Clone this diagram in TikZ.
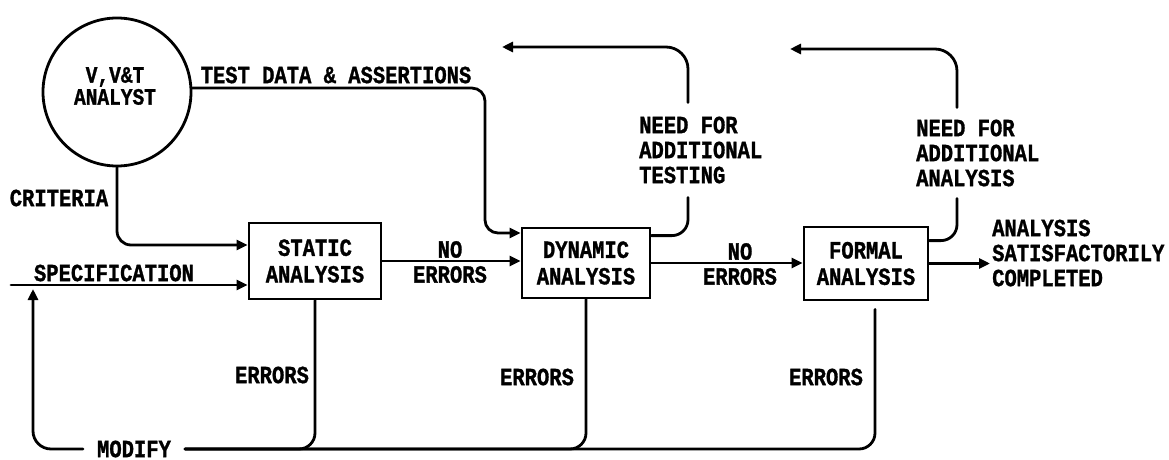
\documentclass[tikz,border=0pt]{standalone}
\usepackage{fontspec}
\usepackage{graphicx}
\setmonofont{Liberation Mono}[BoldFeatures={FakeBold=1.3}]
\usetikzlibrary{arrows.meta}
\newcommand\tx[1]{\scalebox{1}[1.2]{#1}}
\begin{document}
\begin{tikzpicture}[x=1pt,y=-1pt,
  every node/.style={font=\ttfamily\bfseries\fontsize{20.5}{25}\selectfont, inner sep=0pt},
  conn/.style={line width=2.8pt, line cap=round, rounded corners=14pt},
  arr/.style={conn, -{Triangle[length=11pt,width=10pt]}},
  box/.style={draw, line width=2.8pt, inner sep=0pt, align=center, font=\ttfamily\bfseries\fontsize{20.5}{26.5}\selectfont},
  lbl/.style={align=center},
]
\useasboundingbox (0,0) rectangle (1169,460);
% nodes
\node[draw, circle, line width=2.8pt, minimum size=148pt] (analyst) at (117,92) {};
\node[lbl, font=\ttfamily\bfseries\fontsize{19.5}{22}\selectfont] (analysttxt) at (115,86) {\tx{V,V\&T}\\\tx{ANALYST}};
\node[box, minimum width=132pt, minimum height=76pt] (static) at (315,261) {\tx{STATIC}\\\tx{ANALYSIS}};
\node[box, minimum width=128pt, minimum height=70pt] (dynamic) at (586,263) {\tx{DYNAMIC}\\\tx{ANALYSIS}};
\node[box, minimum width=124pt, minimum height=73pt] (formal) at (866,263.5) {\tx{FORMAL}\\\tx{ANALYSIS}};
\node[lbl] (testdata) at (336,75) {\tx{TEST DATA \& ASSERTIONS}};
\node[lbl] (criteria) at (59,198) {\tx{CRITERIA}};
\node[lbl] (spec) at (114,273) {\tx{SPECIFICATION}};
\node[lbl] (noerr1) at (450,262) {\tx{NO}\\\tx{ERRORS}};
\node[lbl] (noerr2) at (740,264) {\tx{NO}\\\tx{ERRORS}};
\node[lbl] (err1) at (272,375) {\tx{ERRORS}};
\node[lbl] (err2) at (537,377) {\tx{ERRORS}};
\node[lbl] (err3) at (826,377) {\tx{ERRORS}};
\node[lbl, inner xsep=14pt] (modify) at (134,449) {\tx{MODIFY}};
\node[align=left, anchor=west, inner ysep=14pt] (nt) at (639,150) {\tx{NEED FOR}\\\tx{ADDITIONAL}\\\tx{TESTING}};
\node[align=left, anchor=west, inner ysep=12pt] (na) at (916,153) {\tx{NEED FOR}\\\tx{ADDITIONAL}\\\tx{ANALYSIS}};
\node[align=left, anchor=west, inner xsep=2pt] (done) at (990,253) {\tx{ANALYSIS}\\\tx{SATISFACTORILY}\\\tx{COMPLETED}};
% helper coordinates
\coordinate (tdx) at (485,233);
\coordinate (crY) at (0,245);
\coordinate (specL) at (11,285);
\coordinate (specUp) at (33,289);
\coordinate (ntx) at (688,0);
\coordinate (nax) at (957,0);
\coordinate (topT) at (502,47);
\coordinate (topF) at (790,49);
% connectors
\draw[arr, rounded corners=13pt] (analyst.3) -| (tdx) -- (tdx -| dynamic.west);
\draw[arr] (analyst.south) |- (static.west |- crY);
\draw[arr] (specL) -- (static.west |- specL);
\draw[arr, rounded corners=18pt] (modify.west) -| (specUp);
\draw[conn, rounded corners=16pt] (static.south) |- (modify.east);
\draw[conn, rounded corners=16pt] (dynamic.south) |- (modify.east);
\draw[conn, rounded corners=16pt] ([xshift=9pt,yshift=-8pt]formal.south) |- (modify.east);
\draw[arr] (static.east) -- (static.east -| dynamic.west);
\draw[arr] (dynamic.east) -- (dynamic.east -| formal.west);
\draw[arr] (formal.east) -- (formal.east -| done.west);
\draw[conn, rounded corners=16pt] ([yshift=-9pt]dynamic.north east) -| (nt.south -| ntx);
\draw[arr, rounded corners=22pt] (nt.north -| ntx) |- (topT);
\draw[conn, rounded corners=16pt] ([yshift=-15pt]formal.north east) -| (na.south -| nax);
\draw[arr, rounded corners=22pt] (na.north -| nax) |- (topF);
\end{tikzpicture}
\end{document}
